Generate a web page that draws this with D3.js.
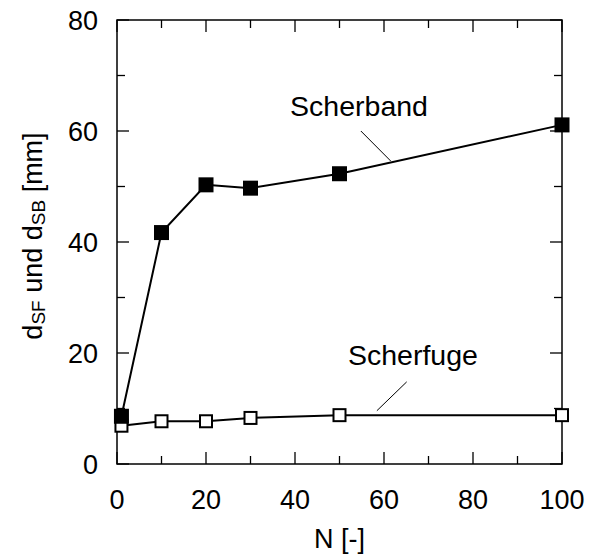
<!DOCTYPE html>
<html>
<head>
<meta charset="utf-8">
<script src="https://cdn.jsdelivr.net/npm/d3@7"></script>
<style>
  html, body { margin: 0; padding: 0; background: #fff; }
  svg { display: block; font-family: "Liberation Sans", Arial, sans-serif; }
</style>
</head>
<body>
<svg id="chart" width="594" height="555"></svg>
<script>
// Load cycles N and measured widths (mm)
const cycles = [1, 10, 20, 30, 50, 100];
const scherband = [8.6, 41.7, 50.3, 49.7, 52.3, 61.1];
const scherfuge = [6.9, 7.7, 7.7, 8.3, 8.8, 8.8];

const xTicks = [0, 20, 40, 60, 80, 100];
const yTicks = [0, 20, 40, 60, 80];
const xMinor = [10, 30, 50, 70, 90];
const yMinor = [10, 30, 50, 70];

const svg = d3.select("#chart");
const margin = { left: 117, right: 32, top: 20, bottom: 91 };
const W = 594, H = 555;

const x = d3.scaleLinear().domain([0, 100]).range([margin.left, W - margin.right]);
const y = d3.scaleLinear().domain([0, 80]).range([H - margin.bottom, margin.top]);

const x0 = x.range()[0], x1 = x.range()[1];
const y0 = y.range()[0], y1 = y.range()[1];
const majorLen = 12, minorLen = 8, fs = 27;

// frame
svg.append("rect")
  .attr("x", x0).attr("y", y1)
  .attr("width", x1 - x0).attr("height", y0 - y1)
  .attr("fill", "none").attr("stroke", "#000").attr("stroke-width", 1.5);

// inward ticks on all four sides
const tickG = svg.append("g").attr("stroke", "#000").attr("stroke-width", 1.3);
function xTicksAt(vals, len) {
  vals.forEach(v => {
    tickG.append("line").attr("x1", x(v)).attr("x2", x(v)).attr("y1", y0).attr("y2", y0 - len);
    tickG.append("line").attr("x1", x(v)).attr("x2", x(v)).attr("y1", y1).attr("y2", y1 + len);
  });
}
function yTicksAt(vals, len) {
  vals.forEach(v => {
    tickG.append("line").attr("y1", y(v)).attr("y2", y(v)).attr("x1", x0).attr("x2", x0 + len);
    tickG.append("line").attr("y1", y(v)).attr("y2", y(v)).attr("x1", x1).attr("x2", x1 - len);
  });
}
xTicksAt(xTicks, majorLen); xTicksAt(xMinor, minorLen);
yTicksAt(yTicks, majorLen); yTicksAt(yMinor, minorLen);

// tick labels
svg.append("g").selectAll("text").data(xTicks).join("text")
  .attr("x", d => x(d)).attr("y", y0 + 45)
  .attr("text-anchor", "middle").attr("font-size", fs).text(d => d);
svg.append("g").selectAll("text").data(yTicks).join("text")
  .attr("x", x0 - 19).attr("y", d => y(d)).attr("dy", "0.36em")
  .attr("text-anchor", "end").attr("font-size", fs).text(d => d);

// axis titles
svg.append("text")
  .attr("x", (x0 + x1) / 2).attr("y", 548)
  .attr("text-anchor", "middle").attr("font-size", fs).text("N [-]");

const yt = svg.append("text")
  .attr("transform", `translate(42,${236}) rotate(-90)`)
  .attr("text-anchor", "middle").attr("font-size", fs);
yt.append("tspan").text("d");
yt.append("tspan").attr("font-size", 19).attr("dy", 3).text("SF");
yt.append("tspan").attr("dy", -3).text(" und d");
yt.append("tspan").attr("font-size", 19).attr("dy", 3).text("SB");
yt.append("tspan").attr("dy", -3).text(" [mm]");

// series
const line = d3.line().x(d => x(d[0])).y(d => y(d[1]));
const sf = cycles.map((c, i) => [c, scherfuge[i]]);
const sb = cycles.map((c, i) => [c, scherband[i]]);

svg.append("path").datum(sf).attr("d", line)
  .attr("fill", "none").attr("stroke", "#000").attr("stroke-width", 2);
svg.append("g").selectAll("rect").data(sf).join("rect")
  .attr("x", d => x(d[0]) - 6).attr("y", d => y(d[1]) - 6)
  .attr("width", 12).attr("height", 12)
  .attr("fill", "#fff").attr("stroke", "#000").attr("stroke-width", 2);

svg.append("path").datum(sb).attr("d", line)
  .attr("fill", "none").attr("stroke", "#000").attr("stroke-width", 2);
svg.append("g").selectAll("rect").data(sb).join("rect")
  .attr("x", d => x(d[0]) - 7.5).attr("y", d => y(d[1]) - 7.5)
  .attr("width", 15).attr("height", 15).attr("fill", "#000");

// series labels with leader lines
const labels = [
  { text: "Scherband", tx: 38.9, ty: 62.7, l: [[54.8, 60.0], [61.5, 54.6]] },
  { text: "Scherfuge", tx: 51.9, ty: 17.8, l: [[65.1, 14.8], [58.4, 9.6]] }
];
labels.forEach(a => {
  svg.append("text").attr("x", x(a.tx)).attr("y", y(a.ty))
    .attr("font-size", 28.5).text(a.text);
  svg.append("line")
    .attr("x1", x(a.l[0][0])).attr("y1", y(a.l[0][1]))
    .attr("x2", x(a.l[1][0])).attr("y2", y(a.l[1][1]))
    .attr("stroke", "#000").attr("stroke-width", 1);
});
</script>
</body>
</html>
